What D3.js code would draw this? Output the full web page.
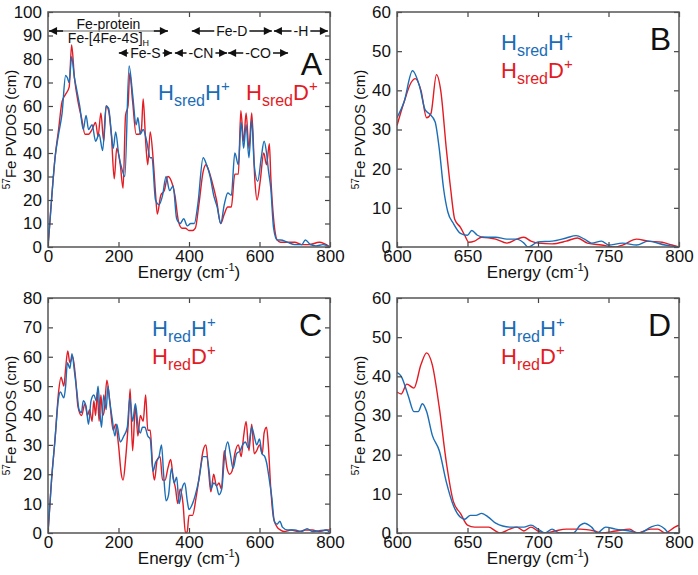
<!DOCTYPE html>
<html><head><meta charset="utf-8">
<script src="https://cdn.jsdelivr.net/npm/d3@7"></script>
<style>body{margin:0;background:#fff}svg{display:block}text{font-family:"Liberation Sans",Arial,sans-serif}</style>
</head><body>
<svg id="c" width="698" height="575"></svg>
<script>
// ---- Panel A (HsredH+ / HsredD+ full range)
const aBlueX=[0,10,20,30,40,50,55,60,67,75,80,90,100,108,115,125,135,145,155,165,172,180,185,192,200,210,218,230,240,250,255,262,270,280,290,295,305,315,325,335,345,355,365,375,385,395,405,415,425,440,450,460,470,480,490,500,510,520,530,540,548,555,562,570,578,585,595,605,613,620,625,632,640,650,660,680,700,720,730,745,760,780,800];
const aBlueY=[0,20,38,48,57,73,72,70,81,72,68,60,50,56,50,52,45,48,41,60,59,48,42,49,40,33,30,77,65,52,55,48,50,45,38,38,20,18,22,30,24,26,12,10,12,9,10,10,18,38,35,30,22,17,10,18,23,22,40,35,53,42,52,38,54,35,28,38,45,40,33,25,8,3,3,2,1,1,3,1,0.5,1,0];
const aRedX=[0,10,20,30,40,50,60,67,75,85,95,105,115,125,135,142,150,158,165,172,180,188,195,205,213,220,227,232,240,250,258,265,270,277,283,290,298,305,310,320,330,340,350,360,370,380,390,400,410,418,428,440,448,455,465,478,490,500,510,520,530,540,547,555,562,570,578,587,593,602,612,620,628,632,640,650,660,690,700,720,740,770,800];
const aRedY=[0,20,38,50,62,65,68,86,72,62,55,48,48,50,53,47,57,45,60,58,47,29,42,35,25,56,60,74,62,48,48,50,63,45,35,49,38,23,14,22,24,30,28,22,11,8,8,7,7,8,18,32,35,33,28,20,10,14,17,17,31,31,58,45,57,42,57,28,20,28,40,35,44,30,12,3,2,2,2,1,1,2,0];
// ---- Panel B (zoom 600-800)
const bBlueX=[600,605,611,616,620,623,627,630,633,636,640,645,650,653,657,662,670,678,685,690,693,700,710,720,727,733,738,745,750,760,770,778,790,800];
const bBlueY=[33,37,45,41,35,34,32,25,15,9,6,3.5,3,4.2,3,2.5,2.5,2,2,1,0,1.3,1.5,2.3,2.9,2,1,1.5,0.5,1,0.5,1.5,0.5,0];
const bRedX=[600,605,610,613,617,621,624,628,631,635,638,641,645,648,651,655,660,670,678,685,690,695,700,710,720,728,735,745,755,760,770,778,788,795,800];
const bRedY=[31,37,42,43,40,33,34,44,40,25,15,7,5,3,1.2,1.5,2.5,2,1,2,2.5,1.5,1,0.8,1.5,2.3,1,0.5,0,0.5,2,1.5,1.2,0.5,0];
// ---- Panel C (HredH+ / HredD+ full range)
const cBlueX=[0,10,20,30,35,45,50,55,62,68,75,82,88,95,100,108,115,122,130,137,142,148,152,158,165,170,175,182,190,195,205,215,225,232,240,248,255,262,268,275,283,290,298,305,315,322,328,335,342,350,358,365,372,380,388,395,400,410,418,428,440,450,458,462,470,478,485,493,500,510,517,525,535,545,552,560,568,578,585,592,600,607,615,620,628,635,642,650,658,665,680,700,720,735,750,770,790,800];
const cBlueY=[0,18,32,46,48,46,50,58,56,61,55,48,42,41,45,43,37,45,47,45,50,40,36,47,42,50,45,39,33,37,31,33,36,46,38,44,37,34,36,36,33,32,21,24,26,30,20,11,13,22,17,19,10,15,17,11,8,10,13,18,26,26,20,15,17,16,13,15,25,31,27,22,27,28,30,31,29,36,33,30,32,27,26,24,18,12,4,3,4,2,1,1,0.5,1.5,0.5,0.8,1,0];
const cRedX=[0,10,20,30,37,45,50,56,62,70,78,85,95,105,112,118,125,130,135,140,145,150,155,160,167,175,185,192,200,208,213,220,228,233,240,248,255,262,270,277,283,290,297,302,310,318,325,332,340,348,355,362,368,375,383,390,395,400,410,420,430,440,448,455,462,470,478,485,492,500,508,515,522,530,540,548,555,562,570,578,585,592,600,608,613,620,625,632,640,650,660,670,690,710,730,750,770,790,800];
const cRedY=[0,18,32,48,53,50,56,62,58,60,53,43,40,44,40,42,38,45,40,48,38,47,40,42,52,45,35,37,30,20,18,25,38,49,28,43,33,40,38,47,35,35,22,18,25,26,18,18,22,25,19,15,10,15,10,0,0.5,6,6,12,20,28,30,22,14,20,16,17,15,28,22,20,21,27,30,26,33,38,28,37,27,28,30,27,34,36,30,15,5,2,1,0.5,1,0.5,1,1,0.5,1,1];
// ---- Panel D (zoom 600-800)
const dBlueX=[600,603,608,612,615,618,621,625,630,635,640,645,648,652,656,660,665,670,680,690,695,700,705,710,715,725,730,733,738,742,748,755,765,772,780,785,790,793,800];
const dBlueY=[41,40,35,31,31,33,31,25,21,13,7,4,3.5,4.5,4.5,5,4,2.5,1.5,1.5,2,1,0,1,0,0,2,2.5,1.5,0,1.5,1,0.5,0,1.5,2,1,0,0];
const dRedX=[600,603,607,612,617,621,625,630,635,640,645,650,655,660,665,670,673,680,685,690,695,700,705,712,720,730,740,745,755,765,770,780,785,790,797,800];
const dRedY=[36,35.5,38,37,43,46,43,32,18,8,5,2,1.5,1.5,1.5,0.5,0,1,1.5,0.5,1.5,0.5,0,0.5,1,1,0.5,0,0.5,1,0,1,1,0,1.5,2];

const fullTicks=[0,200,400,600,800];
const zoomTicks=[600,650,700,750,800];
const BLUE="#1a6db6", RED="#e31b23";

const svg=d3.select("#c");
const panels=[
 {x0:48,y0:12,xd:[0,800],yd:[0,100],xt:fullTicks,yt:d3.range(0,101,10),s:[[aRedX,aRedY,RED],[aBlueX,aBlueY,BLUE]],letter:"A",sub:"sred",leg:"inline"},
 {x0:397,y0:12,xd:[600,800],yd:[0,60],xt:zoomTicks,yt:d3.range(0,61,10),s:[[bRedX,bRedY,RED],[bBlueX,bBlueY,BLUE]],letter:"B",sub:"sred",leg:"stack"},
 {x0:48,y0:298,xd:[0,800],yd:[0,80],xt:fullTicks,yt:d3.range(0,81,10),s:[[cRedX,cRedY,RED],[cBlueX,cBlueY,BLUE]],letter:"C",sub:"red",leg:"stack"},
 {x0:397,y0:298,xd:[600,800],yd:[0,60],xt:zoomTicks,yt:d3.range(0,61,10),s:[[dRedX,dRedY,RED],[dBlueX,dBlueY,BLUE]],letter:"D",sub:"red",leg:"stack"}
];
const W=282,H=235;

function legendText(g,x,y,sub,ion,color){
  const t=g.append("text").attr("x",x).attr("y",y).attr("fill",color).attr("font-size",22);
  t.append("tspan").text("H");
  t.append("tspan").attr("font-size",16).attr("dy",6).text(sub);
  t.append("tspan").attr("dy",-6).text(ion);
  t.append("tspan").attr("font-size",15).attr("dy",-9).text("+");
}

panels.forEach(p=>{
  const g=svg.append("g").attr("transform",`translate(${p.x0},${p.y0})`);
  const x=d3.scaleLinear().domain(p.xd).range([0,W]);
  const y=d3.scaleLinear().domain(p.yd).range([H,0]);
  const cp="clip"+p.letter;
  g.append("clipPath").attr("id",cp).append("rect").attr("width",W).attr("height",H);
  const line=d3.line().x(d=>x(d[0])).y(d=>y(d[1])).curve(d3.curveMonotoneX);
  p.s.forEach(([xs,ys,c])=>{
    g.append("path").datum(xs.map((v,i)=>[v,ys[i]])).attr("d",line).attr("fill","none")
     .attr("stroke",c).attr("stroke-width",1.4).attr("clip-path",`url(#${cp})`);
  });
  // axes with inward ticks on all sides
  const ax=[
    g.append("g").attr("transform",`translate(0,${H})`).call(d3.axisBottom(x).tickValues(p.xt).tickSize(-5).tickPadding(3)),
    g.append("g").call(d3.axisTop(x).tickValues(p.xt).tickSize(-5).tickFormat("")),
    g.append("g").call(d3.axisLeft(y).tickValues(p.yt).tickSize(-5).tickPadding(6)),
    g.append("g").attr("transform",`translate(${W},0)`).call(d3.axisRight(y).tickValues(p.yt).tickSize(-5).tickFormat(""))
  ];
  ax.forEach(a=>{a.select(".domain").remove();a.selectAll("line").attr("stroke","#444").attr("stroke-width",1.2);
    a.selectAll("text").attr("font-size",17).attr("fill","#111").style("font-family","'Liberation Sans',Arial,sans-serif");});
  g.append("rect").attr("width",W).attr("height",H).attr("fill","none").attr("stroke","#555").attr("stroke-width",1.5);
  // axis titles
  const xt=g.append("text").attr("x",W/2).attr("y",H+31).attr("text-anchor","middle").attr("font-size",17).attr("fill","#111");
  xt.append("tspan").text("Energy (cm");
  xt.append("tspan").attr("font-size",11).attr("dy",-7).text("-1");
  xt.append("tspan").attr("dy",7).text(")");
  const yt=g.append("text").attr("transform",`translate(${-32},${H/2}) rotate(-90)`).attr("text-anchor","middle").attr("font-size",15).attr("fill","#111");
  yt.append("tspan").attr("font-size",10).attr("dy",-6).text("57");
  yt.append("tspan").attr("dy",6).text("Fe PVDOS (cm)");
  // panel letter
  g.append("text").attr("x",W-8).attr("y",p.letter==="A"?63:38).attr("text-anchor","end").attr("font-size",32).attr("fill","#111").text(p.letter);
  // legend
  if(p.leg==="inline"){
    legendText(g,110,88,p.sub,"H",BLUE);
    legendText(g,198,88,p.sub,"D",RED);
  } else {
    legendText(g,104,38,p.sub,"H",BLUE);
    legendText(g,104,66,p.sub,"D",RED);
  }
  if(p.letter==="A"){
    // annotation arrows
    const ann=[
      {a:3,b:340,y:19,label:"Fe-protein",ty:12},
      {a:408,b:635,y:19,label:"Fe-D"},
      {a:641,b:794,y:19,label:"-H"},
      {a:201,b:352,y:41,label:"Fe-S"},
      {a:360,b:508,y:41,label:"-CN"},
      {a:511,b:681,y:41,label:"-CO"}
    ];
    const ag=g.append("g");
    ann.forEach(d=>{
      const xa=x(d.a), xb=x(d.b), xm=(xa+xb)/2;
      const t=ag.append("text").attr("x",xm).attr("y",d.ty!==undefined?d.ty+5:d.y+5).attr("text-anchor","middle").attr("font-size",14).attr("fill","#111").text(d.label);
      const bb=t.node().getBBox();
      let l1=bb.x-2, r1=bb.x+bb.width+2;
      if(d.ty!==undefined){l1=xm-60;r1=xm+57;}
      const segs=d.ty!==undefined?[[xa,xb]]:[[xa,l1],[r1,xb]];
      segs.forEach(([s,e])=>ag.append("line").attr("x1",s).attr("x2",e).attr("y1",d.y).attr("y2",d.y).attr("stroke",d.ty!==undefined?"#999":"#111").attr("stroke-width",1.5));
      if(d.ty!==undefined){
        ag.append("line").attr("x1",xa).attr("x2",xa+14).attr("y1",d.y).attr("y2",d.y).attr("stroke","#111").attr("stroke-width",1.5);
        ag.append("line").attr("x1",xb-14).attr("x2",xb).attr("y1",d.y).attr("y2",d.y).attr("stroke","#111").attr("stroke-width",1.5);
      }
      ag.append("path").attr("d",`M${xa},${d.y}l8,-4l0,8z`).attr("fill","#111");
      ag.append("path").attr("d",`M${xb},${d.y}l-8,-4l0,8z`).attr("fill","#111");
      if(d.ty!==undefined){
        const t2=ag.append("text").attr("x",xm).attr("y",d.y+12).attr("text-anchor","middle").attr("font-size",14).attr("fill","#111");
        t2.append("tspan").text("Fe-[4Fe-4S]");
        t2.append("tspan").attr("font-size",9).attr("dy",3).text("H");
      }
    });
  }
});
</script>
</body></html>
